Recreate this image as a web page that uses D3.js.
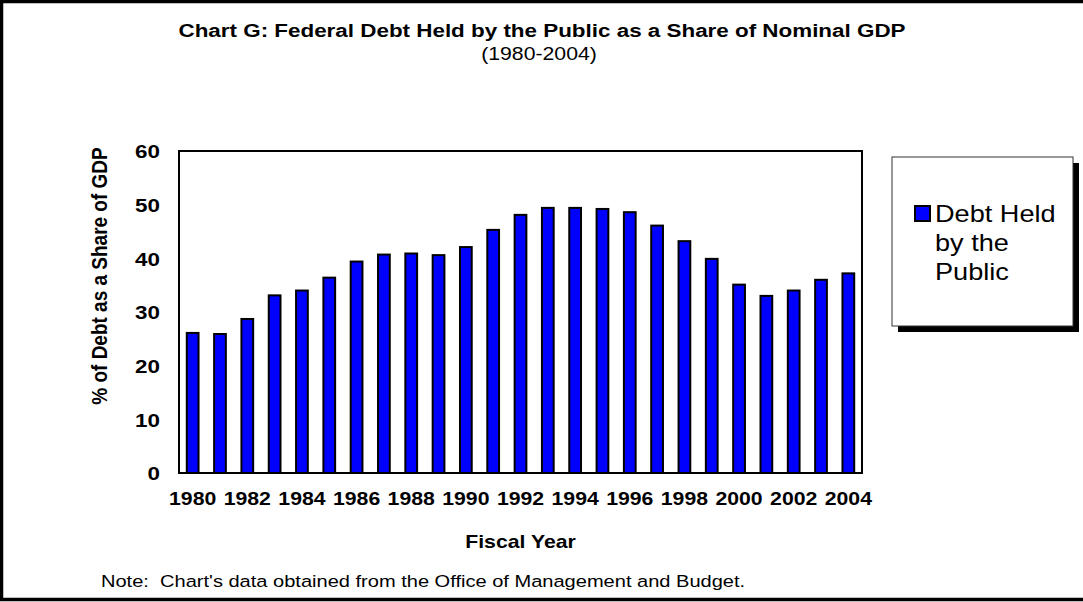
<!DOCTYPE html>
<html>
<head>
<meta charset="utf-8">
<script src="https://cdn.jsdelivr.net/npm/d3@7"></script>
<style>
  html, body { margin: 0; padding: 0; background: #fff; }
  svg { display: block; font-family: Arial, "Liberation Sans", sans-serif; }
  text { white-space: pre; }
</style>
</head>
<body>
<svg id="chart" width="1083" height="602"></svg>
<script>
// Federal debt held by the public, % of nominal GDP, fiscal years 1980-2004
const years = [1980, 1981, 1982, 1983, 1984, 1985, 1986, 1987, 1988, 1989, 1990, 1991,
               1992, 1993, 1994, 1995, 1996, 1997, 1998, 1999, 2000, 2001, 2002, 2003, 2004];
const debtShare = [26.1, 25.9, 28.7, 33.1, 34.0, 36.4, 39.4, 40.7, 40.9, 40.6, 42.1, 45.3,
                   48.1, 49.4, 49.4, 49.2, 48.6, 46.1, 43.2, 39.9, 35.1, 33.0, 34.0, 36.0, 37.2];
const yTicks = [0, 10, 20, 30, 40, 50, 60];
const xTickYears = years.filter(y => y % 2 === 0);
const seriesName = ["Debt Held", "by the", "Public"];

const SX = 1.18; // horizontal stretch applied to all lettering

const svg = d3.select("#chart");
const W = 1083, H = 602;
const plot = { left: 179, top: 151, right: 862, bottom: 473 };

// outer frame (left, top, bottom edges)
svg.append("rect").attr("x", 0).attr("y", 0).attr("width", W).attr("height", H).attr("fill", "#fff");
svg.append("path")
  .attr("d", `M${W},1.5 H1.5 V${H - 2.5} H${W}`)
  .attr("fill", "none").attr("stroke", "#000").attr("stroke-width", 3.5);

function label(x, y, text, opts = {}) {
  return svg.append("text")
    .attr("transform", `translate(${x},${y}) scale(${SX},1)` + (opts.rotate ? ` rotate(${opts.rotate})` : ""))
    .attr("font-size", opts.size || 16)
    .attr("font-weight", opts.bold ? "bold" : "normal")
    .attr("text-anchor", opts.anchor || "start")
    .attr("fill", "#000")
    .text(text);
}

// titles
label(542, 37, "Chart G: Federal Debt Held by the Public as a Share of Nominal GDP", { size: 19, bold: true, anchor: "middle" });
label(539, 60, "(1980-2004)", { size: 18, anchor: "middle" });

const x = d3.scaleBand().domain(years).range([plot.left, plot.right]).paddingInner(0.57).paddingOuter(0.285);
const y = d3.scaleLinear().domain([0, 60]).range([plot.bottom, plot.top]);

// plot frame
svg.append("rect")
  .attr("x", plot.left).attr("y", plot.top)
  .attr("width", plot.right - plot.left).attr("height", plot.bottom - plot.top)
  .attr("fill", "#fff").attr("stroke", "#000").attr("stroke-width", 2);

// bars
svg.append("g").selectAll("rect")
  .data(years.map((yr, i) => ({ yr, v: debtShare[i] })))
  .join("rect")
  .attr("x", d => x(d.yr))
  .attr("y", d => y(d.v))
  .attr("width", x.bandwidth())
  .attr("height", d => y(0) - y(d.v))
  .attr("fill", "#0000ff")
  .attr("stroke", "#000")
  .attr("stroke-width", 2);

// y axis tick labels
const yAxis = d3.axisLeft(y).tickValues(yTicks).tickSize(0).tickPadding(0);
const gy = svg.append("g").attr("transform", `translate(${plot.left - 19},0)`).call(yAxis);
gy.select(".domain").remove();
gy.selectAll(".tick").each(function () {
  const ty = +d3.select(this).attr("transform").match(/,([\d.]+)/)[1];
  d3.select(this).attr("transform", `translate(0,${ty}) scale(${SX},1)`);
});
gy.selectAll("text")
  .attr("font-size", 19).attr("font-weight", "bold").attr("font-family", null)
  .attr("fill", "#000").attr("x", 0).attr("dy", "0.36em");

// x axis tick labels, every other fiscal year
const xAxis = d3.axisBottom(x).tickValues(xTickYears).tickSize(0).tickPadding(0);
const gx = svg.append("g").attr("transform", `translate(0,${plot.bottom + 32})`).call(xAxis);
gx.select(".domain").remove();
gx.selectAll(".tick").each(function () {
  const tx = +d3.select(this).attr("transform").match(/\(([\d.]+)/)[1];
  d3.select(this).attr("transform", `translate(${tx},0) scale(${SX},1)`);
});
gx.selectAll("text")
  .attr("font-size", 18).attr("font-weight", "bold").attr("font-family", null)
  .attr("fill", "#000").attr("y", 0).attr("dy", 0);

// axis titles
label((plot.left + plot.right) / 2, 548, "Fiscal Year", { size: 18, bold: true, anchor: "middle" });
label(107, 276, "% of Debt as a Share of GDP", { size: 19, bold: true, anchor: "middle", rotate: -90 });

// legend with drop shadow
const lg = { x: 892, y: 157, w: 181, h: 169 };
svg.append("rect").attr("x", lg.x + 6).attr("y", lg.y + 6).attr("width", lg.w).attr("height", lg.h).attr("fill", "#000");
svg.append("rect").attr("x", lg.x).attr("y", lg.y).attr("width", lg.w).attr("height", lg.h)
  .attr("fill", "#fff").attr("stroke", "#333").attr("stroke-width", 1);
svg.append("rect").attr("x", 915).attr("y", 206).attr("width", 15).attr("height", 15)
  .attr("fill", "#0000ff").attr("stroke", "#000").attr("stroke-width", 2);
seriesName.forEach((s, i) => label(935, 222 + i * 29, s, { size: 23 }));

// source note
label(101, 587, "Note:  Chart's data obtained from the Office of Management and Budget.", { size: 17 });
</script>
</body>
</html>
